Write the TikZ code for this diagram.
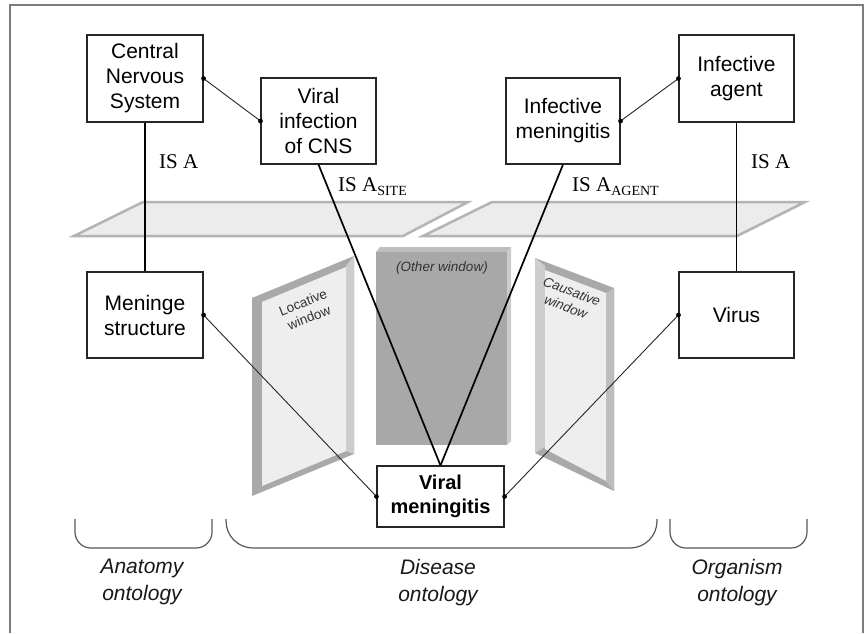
\documentclass[tikz,border=0pt]{standalone}
\usepackage{fontspec}
\setmainfont{Liberation Serif}
\setsansfont{Liberation Sans}
\newcommand{\cptfont}{\sffamily\fontsize{21}{25}\selectfont}
\newcommand{\lowtag}[1]{\raisebox{-4pt}{\fontsize{14}{14}\selectfont #1}}
\definecolor{framegray}{HTML}{7C7C7C}
\definecolor{planefill}{HTML}{ECECEC}
\definecolor{planeedge}{HTML}{B4B4B4}
\definecolor{slabdark}{HTML}{A9A9A9}
\definecolor{slabmid}{HTML}{BDBDBD}
\definecolor{slablight}{HTML}{CDCDCD}
\definecolor{panel}{HTML}{EEEEEE}
\definecolor{otherfront}{HTML}{A8A8A8}
\definecolor{othertop}{HTML}{BEBEBE}
\definecolor{otherside}{HTML}{CBCBCB}
\begin{document}
\begin{tikzpicture}[x=1pt,y=-1pt,
  concept/.style={draw=black!85, line width=1.1pt, fill=white, align=center,
    inner sep=0pt, font=\cptfont, text=black},
  isa/.style={font=\rmfamily\fontsize{21}{21}\selectfont, inner sep=0pt, anchor=base west},
  onto/.style={font=\sffamily\itshape\fontsize{21}{27}\selectfont, align=center,
    inner sep=0pt, anchor=north, text=black!90},
  wintext/.style={font=\sffamily\fontsize{13.5}{16.5}\selectfont, align=center,
    inner sep=0pt, text=black!80},
  plane/.style={fill=planefill, draw=planeedge, line width=2.5pt, line join=miter},
  link/.style={line width=0.9pt, black!85},
  isaline/.style={line width=1.7pt, black},
  dot/.style={fill=black},
  brace/.style={draw=black!65, line width=1.2pt},
  frame/.style={draw=framegray, line width=2pt}]
\useasboundingbox (0,0) rectangle (866,633);
\fill[white] (0,0) rectangle (866,633);
\draw[frame] (10,633) -- (10,5) -- (863,5) -- (863,633);

% ontology boundary planes
\draw[plane] (143,202) -- (468,202) -- (403,236) -- (74,236) -- cycle;
\draw[plane] (492,202) -- (805,202) -- (737,236) -- (423,236) -- cycle;

% locative window slab
\fill[slabdark] (252,298) -- (354,256) -- (354,454) -- (252,496) -- cycle;
\fill[slablight] (346,266) -- (354,256) -- (354,454) -- (346,451) -- cycle;
\fill[panel] (262,302) -- (346,267) -- (346,451) -- (262,486) -- cycle;
\node[wintext, rotate=21.6] (loclabel) at (306,310) {Locative\\window};

% other window block
\fill[othertop] (376,252) -- (380,247) -- (511,247) -- (507,252) -- cycle;
\fill[otherside] (507,252) -- (511,247) -- (511,441) -- (507,445) -- cycle;
\fill[otherfront] (376,252) rectangle (507,445);
\node[wintext, font=\sffamily\itshape\fontsize{13.5}{15}\selectfont] (othlabel) at (442,268) {(Other window)};

% causative window slab
\fill[slabdark] (535,258) -- (614,288) -- (614,491) -- (535,453) -- cycle;
\fill[slablight] (535,258) -- (545,266) -- (545,447) -- (535,453) -- cycle;
\fill[slabmid] (606,293) -- (614,288) -- (614,491) -- (606,481) -- cycle;
\fill[panel] (545,270) -- (606,293) -- (606,481) -- (545,449) -- cycle;
\node[wintext, font=\sffamily\itshape\fontsize{13.5}{16.5}\selectfont, rotate=-21] (caulabel) at (569,299) {Causative\\window};

% concept boxes
\node[concept, minimum width=116pt, minimum height=87pt] (cns) at (145,78.5) {Central\\Nervous\\System};
\node[concept, minimum width=115pt, minimum height=86pt] (vic) at (318.5,121) {Viral\\infection\\of CNS};
\node[concept, minimum width=114pt, minimum height=86pt] (imn) at (563,121) {Infective\\meningitis};
\node[concept, minimum width=115pt, minimum height=87pt] (iag) at (736.5,78.5) {Infective\\agent};
\node[concept, minimum width=116pt, minimum height=86pt] (men) at (145,315) {Meninge\\structure};
\node[concept, minimum width=115pt, minimum height=86pt] (vir) at (736.5,315) {Virus};
\node[concept, minimum width=127pt, minimum height=61pt,
      font=\sffamily\bfseries\fontsize{20}{24}\selectfont] (vm) at (440.5,496.5) {Viral\\meningitis};

% is-a links
\draw[isaline] (cns.south) -- (men.north);
\draw[isaline] (iag.south) -- (vir.north);
\draw[isaline] (vic.south) -- (vm.north);
\draw[isaline] (imn.south) -- (vm.north);

% associative links
\draw[link] (cns.east) -- (vic.west);
\draw[link] (imn.east) -- (iag.west);
\draw[link] (men.east) -- (vm.west);
\draw[link] (vir.west) -- (vm.east);
\foreach \p in {cns.east, vic.west, imn.east, iag.west, men.east, vm.west, vir.west, vm.east}
  \fill[dot] (\p) circle[radius=2.4pt];

% link labels
\node[isa] (isaleft) at (159,168) {IS A};
\node[isa] (isaright) at (751,168) {IS A};
\node[isa] (isasite) at (338,191) {IS A\lowtag{SITE}};
\node[isa] (isaagent) at (572,191) {IS A\lowtag{AGENT}};

% ontology brackets
\draw[brace, rounded corners=16pt] (75,519) -- (75,548) -- (212,548) -- (212,519);
\draw[brace, rounded corners=27pt] (226,519) -- (226,548) -- (657,548) -- (657,519);
\draw[brace, rounded corners=16pt] (670,519) -- (670,548) -- (807,548) -- (807,519);

\node[onto] (anat) at (142,559) {Anatomy\\ontology};
\node[onto] (dis) at (438,559) {Disease\\ontology};
\node[onto] (org) at (737,559) {Organism\\ontology};
\end{tikzpicture}
\end{document}
